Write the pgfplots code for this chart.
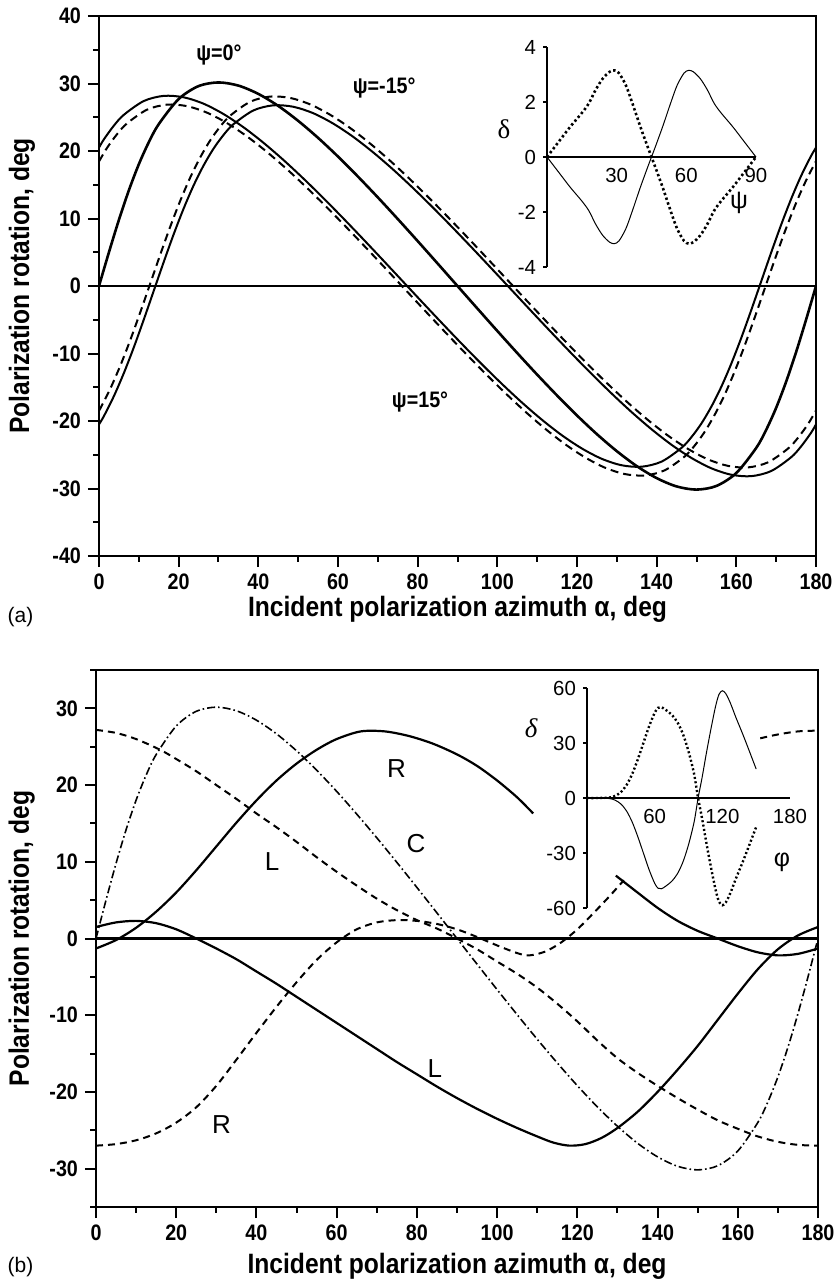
\documentclass[border=0pt]{standalone}
\usepackage{fontspec}
\setmainfont{Liberation Sans}
\newfontfamily\cond[FakeStretch=0.88]{Liberation Sans}
\newfontfamily\serif{Liberation Serif}
\usepackage{pgfplots}
\pgfplotsset{compat=1.18}

\pgfplotsset{
  mainax/.style={
    scale only axis, anchor=south west,
    xmin=0, xmax=180,
    axis line style={line width=1.3pt},
    tick align=outside, tick pos=left,
    major tick length=5.5pt, minor tick length=2.8pt,
    every tick/.style={black, line width=1pt},
    xtick={0,20,...,180},
    xticklabels={0,20,40,60,80,100,120,140,160,180},
    minor xtick={10,30,...,170},
    ticklabel style={font=\cond\bfseries\fontsize{11.2}{12}\selectfont},
    label style={font=\cond\bfseries\fontsize{14}{16}\selectfont},
    xlabel={Incident polarization azimuth α, deg},
    ylabel={Polarization rotation, deg},
  },
  inset/.style={
    scale only axis, anchor=south west,
    axis x line=middle, axis y line=left,
    axis line style={line width=0.7pt, -},
    hide obscured x ticks=false, hide obscured y ticks=false,
    tick align=outside,
    major tick length=2pt,
    every tick/.style={black, line width=0.7pt},
    xtick style={draw=none},
    ticklabel style={font=\fontsize{10.2}{11}\selectfont},
    clip=false,
  },
  thickline/.style={black, line width=1.3pt, smooth},
  solidline/.style={black, line width=1.0pt, smooth},
  dashline/.style={black, line width=1.0pt, dash pattern=on 4pt off 2.5pt, smooth},
}

\begin{document}
\begin{tikzpicture}
\useasboundingbox (0,0) rectangle (418.5pt,-640.5pt);

% ---------------- panel (a) ----------------
\begin{axis}[mainax, at={(49.5pt,-278pt)}, width=358.5pt, height=270pt,
  ymin=-40, ymax=40, ytick={-40,-30,...,40},
  yticklabels={-40,-30,-20,-10,0,10,20,30,40},
  minor ytick={-35,-25,...,35},
  xlabel style={at={(axis description cs:0.5,-0.098)}, anchor=center},
  ylabel style={at={(axis description cs:-0.1074,0.5)}, anchor=center},
]
\addplot[black, line width=1.2pt] coordinates {(0,0) (180,0)};
% psi = 0
\addplot[thickline] coordinates {
(0,0) (2.5,5.01) (5,9.80) (7.5,14.18) (10,18.04) (12.5,21.30) (15,23.98) (20,27.70)
(25,29.62) (30,30.16) (35,29.69) (40,28.46) (45,26.68) (50,24.47) (55,21.95) (60,19.18)
(65,16.22) (70,13.13) (75,9.93) (80,6.66) (85,3.34) (90,0) (95,-3.34) (100,-6.66)
(105,-9.93) (110,-13.13) (115,-16.22) (120,-19.18) (125,-21.95) (130,-24.47) (135,-26.68)
(140,-28.46) (145,-29.69) (150,-30.16) (155,-29.62) (160,-27.70) (165,-23.98) (167.5,-21.30)
(170,-18.04) (172.5,-14.18) (175,-9.80) (177.5,-5.01) (180,0)};
% solid, starts at 20.5
\addplot[solidline] coordinates {
(0,20.50) (1.25,21.75) (3.75,23.77) (6.25,25.37) (11.25,27.41) (16.25,28.17) (21.25,27.96)
(26.25,27.01) (31.25,25.48) (36.25,23.53) (41.25,21.24) (46.25,18.70) (51.25,15.96)
(56.25,13.07) (61.25,10.07) (66.25,6.99) (71.25,3.86) (76.25,0.70) (81.25,-2.46)
(86.25,-5.59) (91.25,-8.67) (96.25,-11.67) (101.25,-14.56) (106.25,-17.30) (111.25,-19.84)
(116.25,-22.13) (121.25,-24.08) (126.25,-25.61) (131.25,-26.56) (136.25,-26.77)
(141.25,-26.01) (146.25,-23.97) (148.75,-22.37) (151.25,-20.35) (153.75,-17.85)
(156.25,-14.90) (158.75,-11.48) (161.25,-7.67) (163.75,-3.56) (166.25,0.70) (168.75,4.96)
(171.25,9.07) (173.75,12.88) (176.25,16.30) (178.75,19.25) (180,20.50)};
% solid, starts at -20.5
\addplot[solidline] coordinates {
(0,-20.50) (1.25,-19.25) (3.75,-16.30) (6.25,-12.88) (8.75,-9.07) (11.25,-4.96)
(13.75,-0.70) (16.25,3.56) (18.75,7.67) (21.25,11.48) (23.75,14.90) (26.25,17.85)
(28.75,20.35) (31.25,22.37) (33.75,23.97) (38.75,26.01) (43.75,26.77) (48.75,26.56)
(53.75,25.61) (58.75,24.08) (63.75,22.13) (68.75,19.84) (73.75,17.30) (78.75,14.56)
(83.75,11.67) (88.75,8.67) (93.75,5.59) (98.75,2.46) (103.75,-0.70) (108.75,-3.86)
(113.75,-6.99) (118.75,-10.07) (123.75,-13.07) (128.75,-15.96) (133.75,-18.70)
(138.75,-21.24) (143.75,-23.53) (148.75,-25.48) (153.75,-27.01) (158.75,-27.96)
(163.75,-28.17) (168.75,-27.41) (173.75,-25.37) (176.25,-23.77) (178.75,-21.75) (180,-20.50)};
% dashed, starts at 18.5
\addplot[dashline] coordinates {
(0,18.45) (2,20.45) (4.5,22.47) (7,24.07) (12,26.11) (17,26.87) (22,26.66) (27,25.71)
(32,24.18) (37,22.23) (42,19.94) (47,17.40) (52,14.66) (57,11.77) (62,8.77) (67,5.69)
(72,2.56) (77,-0.60) (82,-3.76) (87,-6.89) (92,-9.97) (97,-12.97) (102,-15.86) (107,-18.60)
(112,-21.14) (117,-23.43) (122,-25.38) (127,-26.91) (132,-27.86) (137,-28.07) (142,-27.31)
(147,-25.27) (149.5,-23.67) (152,-21.65) (154.5,-19.15) (157,-16.20) (159.5,-12.78)
(162,-8.97) (164.5,-4.86) (167,-0.60) (169.5,3.66) (172,7.77) (174.5,11.58) (177,15.00)
(179.5,17.95) (180,18.45)};
% dashed, starts at -18.5
\addplot[dashline] coordinates {
(0,-18.45) (0.5,-17.95) (3,-15.00) (5.5,-11.58) (8,-7.77) (10.5,-3.66) (13,0.60) (15.5,4.86)
(18,8.97) (20.5,12.78) (23,16.20) (25.5,19.15) (28,21.65) (30.5,23.67) (33,25.27) (38,27.31)
(43,28.07) (48,27.86) (53,26.91) (58,25.38) (63,23.43) (68,21.14) (73,18.60) (78,15.86)
(83,12.97) (88,9.97) (93,6.89) (98,3.76) (103,0.60) (108,-2.56) (113,-5.69) (118,-8.77)
(123,-11.77) (128,-14.66) (133,-17.40) (138,-19.94) (143,-22.23) (148,-24.18) (153,-25.71)
(158,-26.66) (163,-26.87) (168,-26.11) (173,-24.07) (175.5,-22.47) (178,-20.45) (180,-18.45)};
\begin{scope}[every node/.style={font=\cond\bfseries\fontsize{11.2}{12}\selectfont}]
\node at (axis cs:30.1,34.2) {ψ=0°};
\node at (axis cs:71.6,29.3) {ψ=-15°};
\node at (axis cs:80.6,-17.2) {ψ=15°};
\end{scope}
\end{axis}

% inset (a)
\begin{axis}[inset, at={(273.5pt,-133.5pt)}, width=104.5pt, height=110pt,
  xmin=0, xmax=90, ymin=-4, ymax=4,
  xtick={30,60,90}, xticklabels={30,60,90},
  ytick={-4,-2,0,2,4}, yticklabels={-4,-2,0,2,4},
]
\addplot[black, line width=1.3pt, dash pattern=on 1.2pt off 1.3pt, smooth] coordinates {
(0,0) (5,0.55) (10,1.1) (15,1.6) (18,1.95) (21,2.45) (24,2.85) (27,3.1) (29,3.15) (31,3.05)
(34,2.6) (37,1.9) (40,1.15) (43,0.45) (45,0) (47,-0.45) (50,-1.15) (53,-1.9) (56,-2.6)
(59,-3.05) (61,-3.15) (63,-3.1) (66,-2.85) (69,-2.45) (72,-1.95) (75,-1.6) (80,-1.1)
(85,-0.55) (90,0)};
\addplot[black, line width=0.5pt, smooth] coordinates {
(0,0) (5,-0.55) (10,-1.1) (15,-1.6) (18,-1.95) (21,-2.45) (24,-2.85) (27,-3.1) (29,-3.15)
(31,-3.05) (34,-2.6) (37,-1.9) (40,-1.15) (43,-0.45) (45,0) (47,0.45) (50,1.15) (53,1.9)
(56,2.6) (59,3.05) (61,3.15) (63,3.1) (66,2.85) (69,2.45) (72,1.95) (75,1.6) (80,1.1)
(85,0.55) (90,0)};
\node[font=\serif\fontsize{13.5}{14}\selectfont] at (axis cs:-18.5,1) {δ};
\node[font=\fontsize{12.5}{14}\selectfont] at (axis cs:82.7,-1.67) {ψ};
\end{axis}

% ---------------- panel (b) ----------------
\begin{axis}[mainax, at={(48pt,-603.5pt)}, width=361pt, height=268.5pt,
  ymin=-35, ymax=35, ytick={-30,-20,...,30},
  yticklabels={-30,-20,-10,0,10,20,30},
  minor ytick={-35,-25,...,35},
  xlabel style={at={(axis description cs:0.5,-0.11)}, anchor=center},
  ylabel style={at={(axis description cs:-0.103,0.5)}, anchor=center},
]
\addplot[black, line width=1.2pt] coordinates {(0,0) (180,0)};
% C, dash-dot
\addplot[black, line width=0.8pt, dash pattern=on 4pt off 1.5pt on 0.8pt off 1.5pt, smooth] coordinates {
(0,0) (2.5,5.01) (5,9.80) (7.5,14.18) (10,18.04) (12.5,21.30) (15,23.98) (20,27.70)
(25,29.62) (30,30.16) (35,29.69) (40,28.46) (45,26.68) (50,24.47) (55,21.95) (60,19.18)
(65,16.22) (70,13.13) (75,9.93) (80,6.66) (85,3.34) (90,0) (95,-3.34) (100,-6.66)
(105,-9.93) (110,-13.13) (115,-16.22) (120,-19.18) (125,-21.95) (130,-24.47) (135,-26.68)
(140,-28.46) (145,-29.69) (150,-30.16) (155,-29.62) (160,-27.70) (165,-23.98) (167.5,-21.30)
(170,-18.04) (172.5,-14.18) (175,-9.80) (177.5,-5.01) (180,0)};
% L, dashed (upper)
\addplot[black, line width=1.0pt, dash pattern=on 3.5pt off 2.5pt, smooth] coordinates {
(0,27.2) (5,26.8) (10,26.0) (16,24.6) (20,23.4) (25,21.8) (30,20.0) (35,18.2) (40,16.3)
(45,14.5) (50,12.6) (55,10.6) (60,8.7) (65,6.9) (70,5.2) (75,3.7) (80,2.4) (85,1.3) (90,0.0)
(95,-1.4) (100,-3.0) (105,-4.6) (110,-6.4) (115,-8.5) (120,-10.8) (125,-13.3) (130,-15.6)
(135,-17.5) (140,-19.2) (145,-20.8) (150,-22.3) (155,-23.7) (160,-24.8) (165,-25.8)
(170,-26.5) (175,-26.9) (180,-27.0)};
% R, dashed (lower)
\addplot[black, line width=1.0pt, dash pattern=on 3.5pt off 2.5pt, smooth] coordinates {
(0,-27.0) (5,-26.8) (10,-26.3) (15,-25.4) (20,-24.0) (25,-22.0) (30,-19.2) (35,-15.8)
(40,-12.3) (45,-8.9) (50,-5.7) (55,-2.8) (60,-0.5) (65,1.2) (70,2.1) (75,2.4) (80,2.3)
(85,1.9) (90,1.2) (95,0.2) (100,-0.9) (105,-1.9) (108,-2.2) (112,-1.7) (116,-0.5) (120,1.2)
(124,3.3) (128,5.5) (131.6,7.6)};
\addplot[black, line width=1.0pt, dash pattern=on 3.5pt off 2.5pt, smooth] coordinates {
(165.6,26.1) (170,26.6) (175,27.0) (180,27.1)};
% R, solid (upper)
\addplot[black, line width=1.1pt, smooth] coordinates {
(0,-1.3) (5,-0.2) (10,1.4) (15,3.5) (20,6.0) (25,8.9) (30,12.0) (35,15.1) (40,18.0)
(45,20.6) (50,22.8) (55,24.6) (60,26.0) (66,27.0) (72,27.0) (78,26.4) (84,25.4) (90,24.0)
(95,22.5) (100,20.6) (105,18.4) (109,16.3)};
\addplot[black, line width=1.1pt, smooth] coordinates {
(129.6,8.2) (135,6.0) (140,4.0) (145,2.3) (150,1.0) (155,0.0) (160,-1.0) (165,-1.8)
(170,-2.2) (175,-2.0) (180,-1.3)};
% L, solid (lower)
\addplot[black, line width=1.1pt, smooth] coordinates {
(0,1.5) (5,2.1) (10,2.3) (15,2.0) (20,1.2) (25,0.0) (30,-1.3) (35,-2.7) (40,-4.3) (45,-5.9)
(50,-7.6) (55,-9.3) (60,-11.0) (65,-12.7) (70,-14.4) (75,-16.1) (80,-17.7) (85,-19.3)
(90,-20.8) (95,-22.2) (100,-23.5) (105,-24.7) (110,-25.8) (114,-26.6) (118,-27.0)
(122,-26.8) (126,-26.0) (130,-24.7) (135,-22.6) (140,-20.0) (145,-17.1) (150,-14.0)
(155,-10.6) (160,-7.2) (165,-4.0) (170,-1.4) (175,0.4) (180,1.5)};
\begin{scope}[every node/.style={font=\fontsize{13}{15}\selectfont}]
\node at (axis cs:74.9,22.2) {R};
\node at (axis cs:43.9,10.0) {L};
\node at (axis cs:79.8,12.4) {C};
\node at (axis cs:31.3,-24.3) {R};
\node at (axis cs:84.5,-16.9) {L};
\end{scope}
\end{axis}

% inset (b)
\begin{axis}[inset, at={(293.5pt,-454pt)}, width=101.5pt, height=110pt,
  xmin=0, xmax=180, ymin=-60, ymax=60,
  xtick={60,120,180}, xticklabels={60,120,180},
  ytick={-60,-30,0,30,60}, yticklabels={-60,-30,0,30,60},
]
\addplot[black, line width=1.2pt, dash pattern=on 1pt off 1.2pt, smooth] coordinates {
(0,0) (10,0) (20,0.3) (25,1.2) (30,3.2) (35,7) (40,13) (45,21) (50,30) (55,39) (60,46.5)
(63,49.2) (66,49.5) (70,48) (75,45.5) (80,41.5) (85,35) (90,25.5) (95,13) (98.5,0)
(102,-11) (106,-25) (110,-38) (114,-50) (117,-56.5) (120,-58.5) (123,-57) (127,-52)
(132,-44) (138,-35) (144,-25.5) (150,-15.8)};
\addplot[black, line width=0.5pt, smooth] coordinates {
(0,0) (10,0) (20,-0.3) (25,-1.2) (30,-3.2) (35,-7) (40,-13) (45,-21) (50,-30) (55,-39)
(60,-46.5) (63,-49.2) (66,-49.5) (70,-48) (75,-45.5) (80,-41.5) (85,-35) (90,-25.5)
(95,-13) (98.5,0) (102,11) (106,25) (110,38) (114,50) (117,56.5) (120,58.5) (123,57)
(127,52) (132,44) (138,35) (144,25.5) (150,15.8)};
\node[font=\serif\itshape\fontsize{13.5}{14}\selectfont] at (axis cs:-49.6,38) {δ};
\node[font=\fontsize{12.5}{14}\selectfont] at (axis cs:172.9,-35.1) {φ};
\end{axis}

\node[font=\fontsize{10.5}{12}\selectfont] at (10.25pt,-308.5pt) {(a)};
\node[font=\fontsize{10.5}{12}\selectfont] at (10.25pt,-633.5pt) {(b)};
\end{tikzpicture}
\end{document}
